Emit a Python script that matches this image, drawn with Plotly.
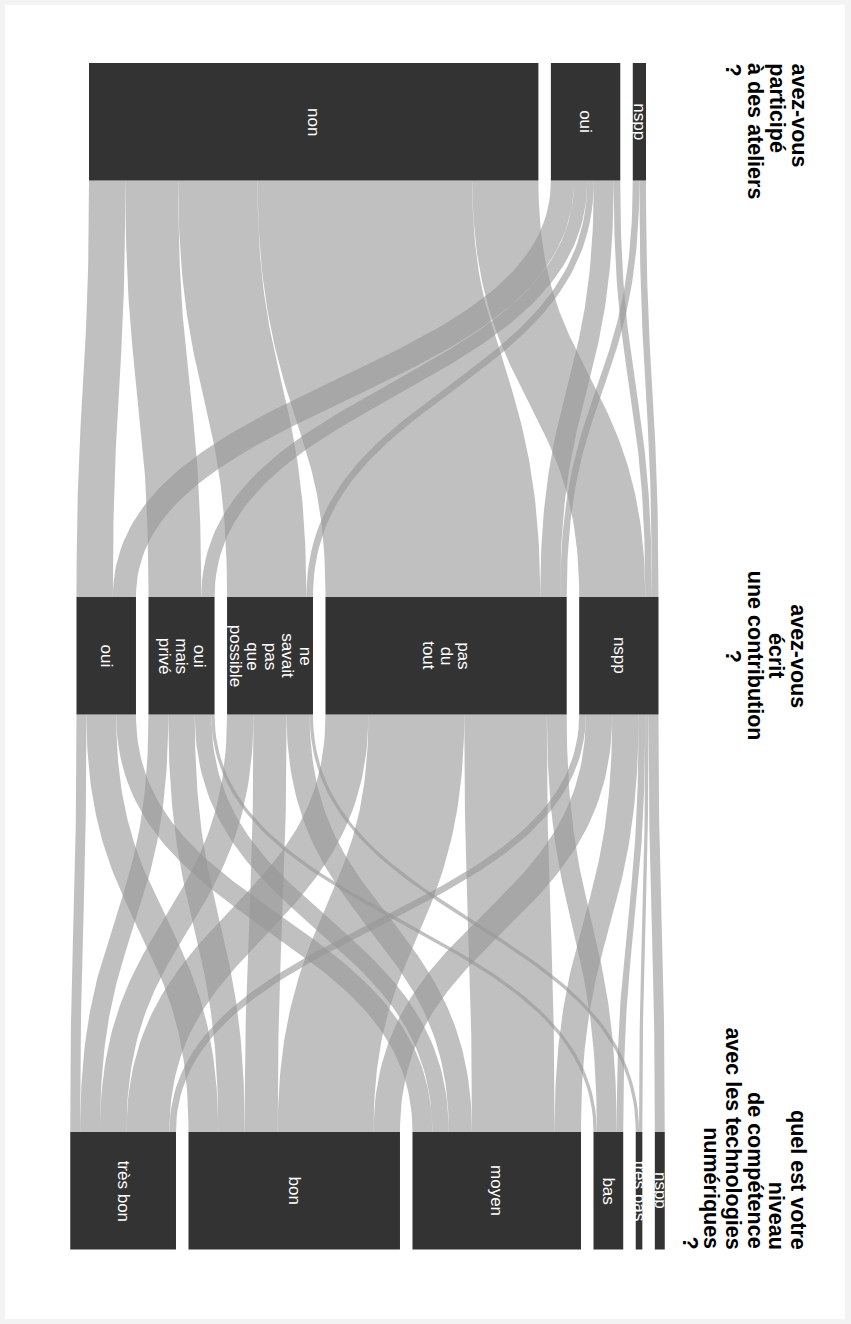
import numpy as np
import plotly.graph_objects as go

# categories of the three questions (screen order, left to right)
atelier = ['non', 'oui', 'nspp']
contribution = ['oui', 'oui mais privé', 'ne savait pas que possible', 'pas du tout', 'nspp']
niveau = ['très bon', 'bon', 'moyen', 'bas', 'très bas', 'nspp']

titles = [
    ['avez-vous', 'participé', 'à des ateliers', '?'],
    ['avez-vous', 'écrit', 'une contribution', '?'],
    ['quel est votre', 'niveau', 'de compétence', 'avec les technologies', 'numériques', '?'],
]

# atelier -> contribution (rows: atelier, cols: contribution)
flows_1 = [
    [11, 16, 24, 65, 20],   # non
    [7, 4, 2, 6, 2],        # oui
    [0, 0, 0, 2, 2],        # nspp
]
# contribution -> niveau (rows: contribution, cols: niveau)
flows_2 = [
    [3, 9, 6, 0, 0, 0],     # oui
    [6, 8, 5, 1, 0, 0],     # oui mais privé
    [8, 10, 7, 0, 1, 0],    # ne savait pas que possible
    [13, 29, 25, 6, 0, 0],  # pas du tout
    [2, 8, 8, 2, 1, 3],     # nspp
]

W, H = 851, 1324
ML, MR, MT, MB = 5, 6, 5, 5
band_top = [63, 597, 1132]
node_h = 117.5
center_x = 367.5
span = 532.0
pad = 12.5
node_col = '#333333'
link_col = 'rgba(150,150,150,0.6)'
font = 'Liberation Sans, Arial, sans-serif'

f1 = np.array(flows_1, dtype=float)
f2 = np.array(flows_2, dtype=float)
levels = [atelier, contribution, niveau]
totals = [f1.sum(axis=1), f1.sum(axis=0), f2.sum(axis=0)]
k = span / f1.sum()


def node_positions(tot):
    width = tot.sum() * k + pad * (len(tot) - 1)
    x = center_x - width / 2
    out = []
    for t in tot:
        out.append((x, x + t * k))
        x += t * k + pad
    return out


nodes = [node_positions(t) for t in totals]


def ribbon(xs, xt, w, y0, y1, n=80):
    # band of constant thickness around a vertical cubic bezier
    t = np.linspace(0, 1, n)
    ym = (y0 + y1) / 2
    px = [xs, xs, xt, xt]
    py = [y0, ym, ym, y1]
    bx = (1-t)**3*px[0] + 3*(1-t)**2*t*px[1] + 3*(1-t)*t**2*px[2] + t**3*px[3]
    by = (1-t)**3*py[0] + 3*(1-t)**2*t*py[1] + 3*(1-t)*t**2*py[2] + t**3*py[3]
    dx = 3*(1-t)**2*(px[1]-px[0]) + 6*(1-t)*t*(px[2]-px[1]) + 3*t**2*(px[3]-px[2])
    dy = 3*(1-t)**2*(py[1]-py[0]) + 6*(1-t)*t*(py[2]-py[1]) + 3*t**2*(py[3]-py[2])
    L = np.hypot(dx, dy)
    nx, ny = -dy / L, dx / L
    xl, yl = bx + nx * w / 2, by + ny * w / 2
    xr, yr = bx - nx * w / 2, by - ny * w / 2
    return np.concatenate([xl, xr[::-1], xl[:1]]), np.concatenate([yl, yr[::-1], yl[:1]])


fig = go.Figure()

for lev, F in enumerate([f1, f2]):
    src_nodes, tgt_nodes = nodes[lev], nodes[lev + 1]
    y0 = band_top[lev] + node_h
    y1 = band_top[lev + 1]
    # offsets at source: ordered by target; at target: ordered by source
    src_start = np.zeros_like(F)
    for i in range(F.shape[0]):
        cur = src_nodes[i][0]
        for j in range(F.shape[1]):
            src_start[i, j] = cur
            cur += F[i, j] * k
    tgt_start = np.zeros_like(F)
    for j in range(F.shape[1]):
        cur = tgt_nodes[j][0]
        for i in range(F.shape[0]):
            tgt_start[i, j] = cur
            cur += F[i, j] * k
    for i in range(F.shape[0]):
        for j in range(F.shape[1]):
            if F[i, j] <= 0:
                continue
            w = F[i, j] * k
            xs = src_start[i, j] + w / 2
            xt = tgt_start[i, j] + w / 2
            rx, ry = ribbon(xs, xt, w, y0, y1)
            fig.add_trace(go.Scatter(x=rx, y=ry, mode='lines', fill='toself',
                                     fillcolor=link_col, line=dict(width=0),
                                     hoverinfo='skip', showlegend=False))

shapes = []
annotations = []
lab_lh = 17.5
for lev, cats in enumerate(levels):
    top = band_top[lev]
    for name, (x0, x1) in zip(cats, nodes[lev]):
        shapes.append(dict(type='rect', x0=x0, x1=x1, y0=top, y1=top + node_h,
                           xref='x', yref='y', fillcolor=node_col,
                           line=dict(width=0), layer='above'))
        lines = name.split(' ') if lev == 1 else [name]
        xc = (x0 + x1) / 2
        n = len(lines)
        for li, txt in enumerate(lines):
            annotations.append(dict(x=xc + (n - 1) / 2 * lab_lh - li * lab_lh,
                                    y=top + node_h / 2, xref='x', yref='y',
                                    text=txt, showarrow=False, textangle=90,
                                    xanchor='center', yanchor='middle',
                                    font=dict(family=font, size=17, color='white')))

# question titles, to the right of each row
ttl_lh = 21.8
ttl_x0 = 798.5
for lev, lines in enumerate(titles):
    top = band_top[lev]
    if lev == 0:
        y, ya = top - 2, 'top'
    elif lev == 1:
        y, ya = top + node_h / 2, 'middle'
    else:
        y, ya = top + node_h + 2, 'bottom'
    for li, txt in enumerate(lines):
        annotations.append(dict(x=ttl_x0 - li * ttl_lh, y=y, xref='x', yref='y',
                                text='<b>' + txt + '</b>', showarrow=False, textangle=90,
                                xanchor='center', yanchor=ya,
                                font=dict(family=font, size=21.5, color='black')))

fig.update_layout(
    width=W, height=H,
    margin=dict(l=ML, r=MR, t=MT, b=MB, pad=0),
    paper_bgcolor='#f3f3f3', plot_bgcolor='white',
    xaxis=dict(range=[ML, W - MR], visible=False, fixedrange=True),
    yaxis=dict(range=[H - MB, MT], visible=False, fixedrange=True),
    shapes=shapes, annotations=annotations,
)
fig.write_html("out.html", config={'displayModeBar': False},
               post_script="document.body.style.margin='0px';")
